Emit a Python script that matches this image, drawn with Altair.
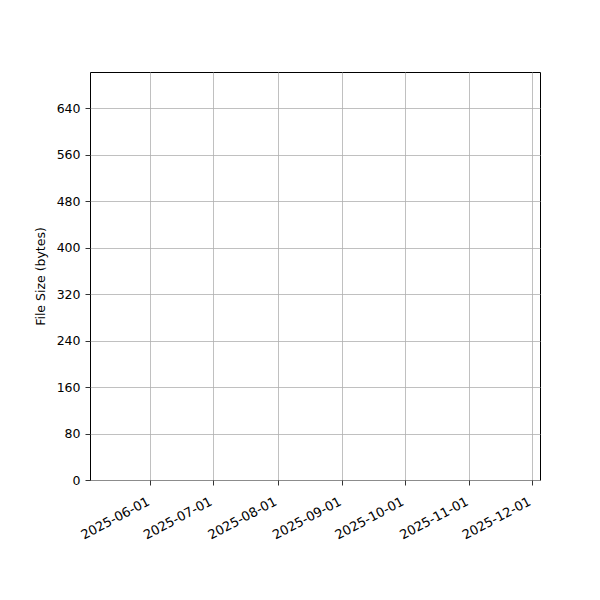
import altair as alt
import pandas as pd

# The reference plot shows no data marks: the series is empty.
dates = []
sizes = []

x_domain = ["2025-05-03", "2025-12-05"]
x_ticks = ["2025-06-01", "2025-07-01", "2025-08-01", "2025-09-01",
           "2025-10-01", "2025-11-01", "2025-12-01"]
y_domain = [0, 702]
y_ticks = [0, 80, 160, 240, 320, 400, 480, 560, 640]

df = pd.DataFrame({"date": pd.to_datetime(pd.Series(dates, dtype="object")),
                   "size": pd.Series(sizes, dtype="float")})


def dt(s):
    y, m, d = (int(v) for v in s.split("-"))
    return alt.DateTime(year=y, month=m, date=d, utc=True)


font = "DejaVu Sans"

chart = alt.Chart(df).mark_line(color="#1f77b4").encode(
    x=alt.X("date:T",
            scale=alt.Scale(type="utc", domain=[dt(s) for s in x_domain], nice=False),
            axis=alt.Axis(values=[dt(s) for s in x_ticks], format="%Y-%m-%d",
                          labelAngle=-28, labelAlign="right", labelBaseline="top",
                          labelOffset=-5, labelPadding=10, labelFontSize=13,
                          title=None)),
    y=alt.Y("size:Q",
            scale=alt.Scale(domain=y_domain, nice=False, zero=True),
            axis=alt.Axis(values=y_ticks, title="File Size (bytes)",
                          labelPadding=5, titlePadding=9)),
).properties(
    width=450, height=408,
    background="white",
    autosize=alt.AutoSizeParams(type="none"),
    padding={"left": 82, "top": 64, "right": 50, "bottom": 100},
).configure_view(
    stroke="black", strokeWidth=1, fill="white",
).configure_axis(
    grid=True, gridColor="#b0b0b0", gridWidth=0.8, gridOpacity=1,
    domain=False,
    tickColor="black", tickSize=5, tickWidth=0.8,
    labelColor="black", labelFont=font, labelFontSize=12.5,
    titleColor="black", titleFont=font, titleFontSize=12.5, titleFontWeight="normal",
    labelFlush=False, labelOverlap=False,
)

chart.save("out.html", embed_options={"renderer": "svg", "actions": False})
